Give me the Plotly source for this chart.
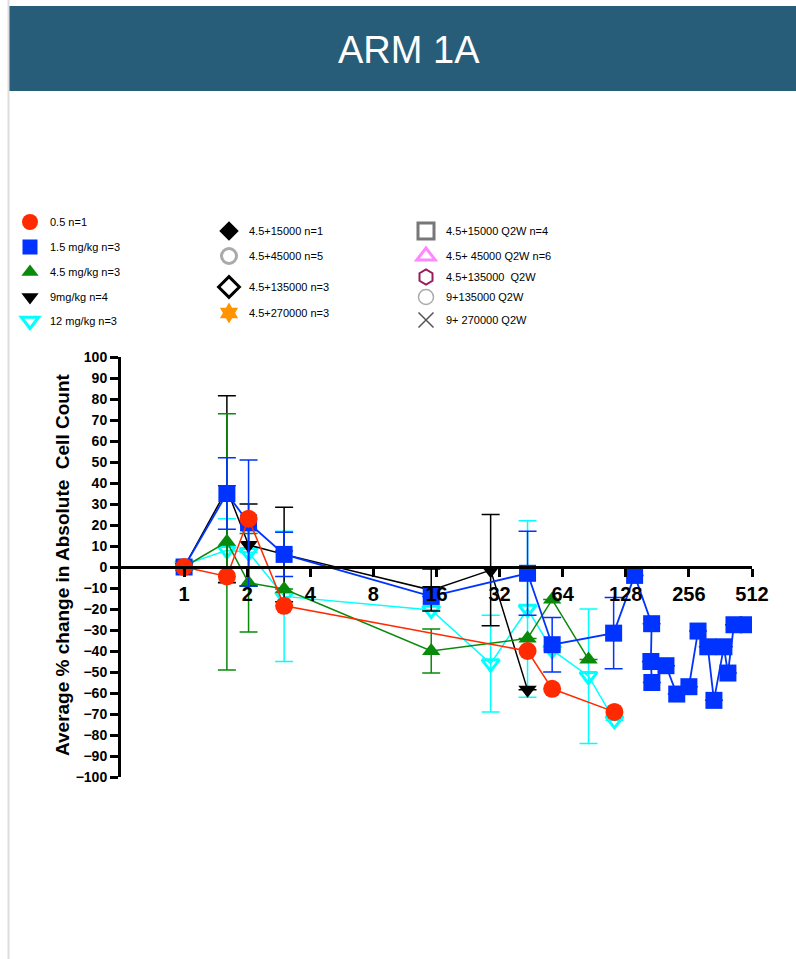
import plotly.graph_objects as go

# ---------------- data ----------------
red_x = [1, 1.6, 2.03, 3.0, 43.5, 57, 113]
red_y = [0, -4.5, 23, -18.5, -40, -58, -69]

blue_x = [1, 1.6, 2.03, 3.0, 15.1, 43.5, 57, 112, 141, 170, 168.6, 170.4, 199, 224, 256, 283, 315, 337, 376, 393, 420, 490]
blue_y = [0, 35, 21, 6, -14, -3, -37, -31.5, -4, -27, -45, -55, -47, -60.5, -57, -30.5, -38, -63.5, -38, -50.5, -27.5, -27.5]
blue_err = [None, 17, 30, 10.5, None, 20, 13, 17, None, None, None, None, None, None, None, None, None, None, None, None, None, None]

green_x = [1, 1.6, 2.03, 3.0, 15.1, 43.5, 57, 85]
green_y = [0, 12, -7.5, -10.5, -40, -34, -15.5, -44]
green_err = [None, 61, 23.5, None, 10.5, None, None, None]

black_x = [1, 1.6, 2.03, 3.0, 15.1, 29, 43.5]
black_y = [0, 37, 10.5, 6, -11, -1.5, -58.5]
black_err = [None, 44.5, 19.5, 22.5, 10, 26.5, None]

cyan_x = [1, 1.6, 2.03, 3.0, 15.1, 29, 43.5, 57, 85, 113]
cyan_y = [1, 8, 7, -14, -20.5, -46, -20, -39.5, -52, -73]
cyan_err = [None, 15, None, 31, None, 23, 42, None, 32, None]

x_ticks = [1, 2, 4, 8, 16, 32, 64, 128, 256, 512]
x_tick_labels = ["1", "2", "4", "8", "16", "32", "64", "128", "256", "512"]
y_ticks = list(range(-100, 101, 10))

legend_names = [
    "0.5 n=1", "1.5 mg/kg n=3", "4.5 mg/kg n=3", "9mg/kg n=4", "12 mg/kg n=3",
    "4.5+15000 n=1", "4.5+45000 n=5", "4.5+135000 n=3", "4.5+270000 n=3",
    "4.5+15000 Q2W n=4", "4.5+ 45000 Q2W n=6", "4.5+135000  Q2W", "9+135000 Q2W", "9+ 270000 Q2W",
]

# ---------------- styles ----------------
W, H = 796, 959
RED, BLUE, GREEN, BLACK, CYAN = "#ff2a00", "#0033ff", "#0a8a0a", "#000000", "#00ffff"
FONT = "Liberation Sans, Arial, sans-serif"

def px(x):
    return x / W

def py(y):
    return 1 - y / H

fig = go.Figure()

def data_trace(x, y, err, color, symbol, size, lw, mline=0):
    fig.add_trace(go.Scatter(
        x=x, y=y, mode="lines+markers", showlegend=False,
        line=dict(color=color, width=lw),
        marker=dict(symbol=symbol, size=size, color=color,
                    line=dict(width=mline, color=color)),
        error_y=dict(type="data", array=err, visible=True,
                     color=color, thickness=1.5, width=9) if err is not None else None,
    ))

data_trace(cyan_x, cyan_y, cyan_err, CYAN, "triangle-down-open", 15, 1.5, mline=3)
data_trace(black_x, black_y, black_err, BLACK, "triangle-down", 16, 1.5)
data_trace(green_x, green_y, green_err, GREEN, "triangle-up", 16, 1.5)
data_trace(blue_x, blue_y, blue_err, BLUE, "square", 17, 1.8)
data_trace(red_x, red_y, None, RED, "circle", 18, 1.5)

# legend-only entries
leg_styles = [
    dict(symbol="circle", size=16, color=RED),
    dict(symbol="square", size=15, color=BLUE),
    dict(symbol="triangle-up", size=15, color=GREEN),
    dict(symbol="triangle-down", size=15, color=BLACK),
    dict(symbol="triangle-down-open", size=15, color=CYAN, line=dict(width=3, color=CYAN)),
    dict(symbol="diamond", size=15, color=BLACK),
    dict(symbol="circle-open", size=15, color="#aaaaaa", line=dict(width=3, color="#aaaaaa")),
    dict(symbol="diamond-open", size=16, color=BLACK, line=dict(width=3, color=BLACK)),
    dict(symbol="hexagram", size=16, color="#ff9400"),
    dict(symbol="square-open", size=16, color="#777777", line=dict(width=3, color="#777777")),
    dict(symbol="triangle-up-open", size=16, color="#ff88ff", line=dict(width=3, color="#ff88ff")),
    dict(symbol="hexagon-open", size=15, color="#9b1b5a", line=dict(width=2, color="#9b1b5a")),
    dict(symbol="circle-open", size=15, color="#aaaaaa", line=dict(width=1.5, color="#aaaaaa")),
    dict(symbol="x-thin-open", size=15, color="#555555", line=dict(width=1.5, color="#555555")),
]
# marker centre positions in pixels
leg_pos = [
    (30, 222), (30, 247), (30, 272), (30, 297), (30, 321),
    (229, 231), (229, 256), (229, 287), (229, 313),
    (426, 231), (426, 256), (426, 277), (426, 297), (426, 320),
]

layout_legends = {}
for i, (name, st, (lx, ly)) in enumerate(zip(legend_names, leg_styles, leg_pos)):
    key = "legend" if i == 0 else f"legend{i+1}"
    fig.add_trace(go.Scatter(x=[None], y=[None], mode="markers", name=name,
                             marker=st, legend=key, showlegend=True))
    layout_legends[key] = dict(
        x=px(lx - 20), y=py(ly), xanchor="left", yanchor="middle",
        bgcolor="rgba(0,0,0,0)", borderwidth=0,
        font=dict(family=FONT, size=11, color="#000"),
        itemwidth=30,
    )

fig.update_layout(**layout_legends)

y0d, y1d = py(777), py(357)
fig.update_layout(
    width=W, height=H, autosize=False,
    margin=dict(l=0, r=0, t=0, b=0, pad=0, autoexpand=False),
    paper_bgcolor="white", plot_bgcolor="white",
    font=dict(family=FONT, color="#000"),
    xaxis=dict(
        type="log", range=[-0.30103, 2.70927], domain=[px(121), px(752)],
        anchor="free", position=py(567), automargin=False,
        showgrid=False, zeroline=False, showline=True, linecolor="black", linewidth=3,
        ticks="outside", ticklen=8, tickwidth=2.5, tickcolor="black",
        tickvals=x_ticks, ticktext=x_tick_labels,
        tickfont=dict(family=FONT, size=20, weight="bold", color="black"),
    ),
    yaxis=dict(
        range=[-100, 100], domain=[y0d, y1d], automargin=False,
        showgrid=False, zeroline=False, showline=True, linecolor="black", linewidth=3,
        ticks="outside", ticklen=8, tickwidth=2.5, tickcolor="black",
        tickvals=y_ticks,
        tickfont=dict(family=FONT, size=14, weight="bold", color="black"),
    ),
    shapes=[
        dict(type="line", xref="paper", yref="paper", x0=px(8.5), x1=px(8.5), y0=0, y1=1,
             line=dict(color="#dddddd", width=2)),
        dict(type="rect", xref="paper", yref="paper", x0=px(9), x1=1, y0=py(91), y1=py(6),
             fillcolor="#275d78", line=dict(width=0), layer="below"),
    ],
    annotations=[
        dict(text="ARM 1A", xref="paper", yref="paper", x=px(409), y=py(50),
             xanchor="center", yanchor="middle", showarrow=False,
             font=dict(family="Liberation Sans Narrow, Arial Narrow, Liberation Sans, sans-serif",
                       size=38, color="white")),
        dict(text="Average % change in Absolute  Cell Count", xref="paper", yref="paper",
             x=px(62), y=py(565), xanchor="center", yanchor="middle", textangle=-90,
             showarrow=False, font=dict(family=FONT, size=19, weight="bold", color="black")),
    ],
)

fig.write_html(
    "out.html",
    post_script="document.body.style.margin='0';document.body.style.padding='0';"
                "document.documentElement.style.overflow='hidden';",
)
